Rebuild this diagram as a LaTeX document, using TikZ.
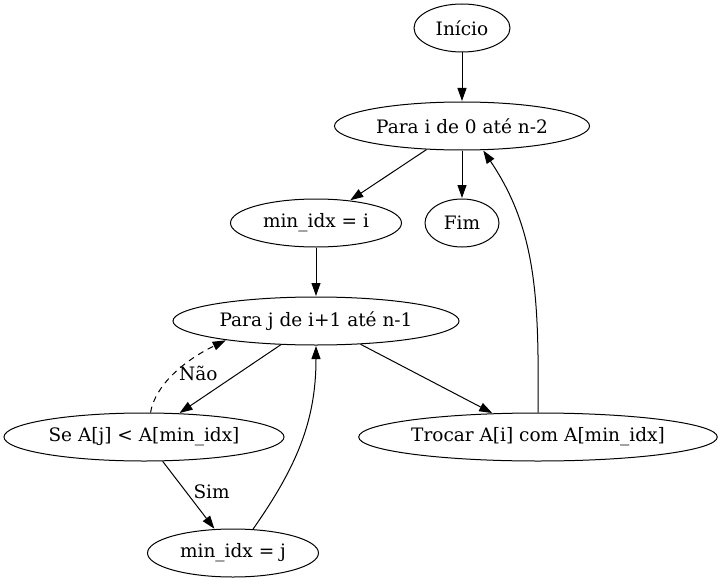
\documentclass[tikz,border=0pt]{standalone}
\usepackage{fontspec}
\setmainfont{DejaVu Serif}
\usetikzlibrary{shapes.geometric,arrows.meta}

\begin{document}
\begin{tikzpicture}[x=1pt,y=-1pt,>={Triangle[length=13pt,width=9pt]},line width=1pt]
                \tikzstyle{step node}=[ellipse,draw,inner sep=0pt,minimum height=48pt,font=\fontsize{18.5}{22}\selectfont]
                \tikzstyle{flow}=[->,shorten >=0.5pt]
                \tikzstyle{lbl}=[font=\fontsize{18.5}{22}\selectfont,inner sep=1pt]
                \useasboundingbox (0,0) rectangle (722,583);

                % Outer loop
                \node[step node, minimum width=96pt] (inicio) at (462,28) {Início};
                \node[step node, minimum width=255pt] (outer) at (462,126) {Para i de 0 até n-2};
                \node[step node, minimum width=171pt] (mini) at (316,223) {min\_idx = i};
                \node[step node, minimum width=74pt] (fim) at (462,223) {Fim};

                % Inner loop
                \node[step node, minimum width=286pt] (inner) at (316,321) {Para j de i+1 até n-1};
                \node[step node, minimum width=280pt] (test) at (144,437) {Se A[j] < A[min\_idx]};
                \node[step node, minimum width=357pt] (swap) at (538,437) {Trocar A[i] com A[min\_idx]};
                \node[step node, minimum width=171pt] (minj) at (233,553) {min\_idx = j};

                % Connect the steps
                \draw[flow] (inicio) -- (outer);
                \draw[flow] (outer) -- (mini);
                \draw[flow] (outer) -- (fim);
                \draw[flow] (mini) -- (inner);
                \draw[flow] (inner) -- (test);
                \draw[flow] (inner) -- (swap);
                \draw[flow] (swap.north) .. controls (539,300) and (537,230) .. (outer.-49);
                \draw[flow] (test) -- node[lbl,right=6pt,pos=0.45] {Sim} (minj);
                \draw[flow] (minj.50) to[out=55,in=-90] (inner.south);
                \draw[flow,dash pattern=on 6pt off 5pt] (test.75) .. controls (155,385) and (185,360) .. node[lbl,right=3pt,pos=0.5] {Não} (inner.-168);
            \end{tikzpicture}
\end{document}
